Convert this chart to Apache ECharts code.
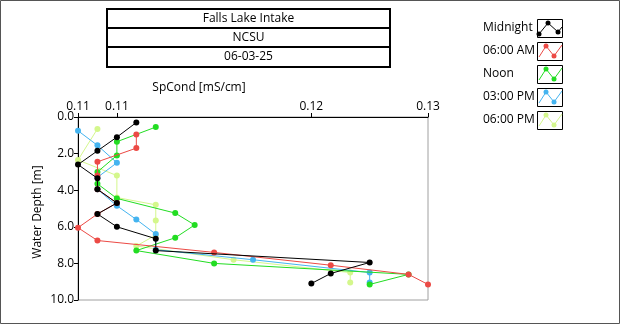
<!DOCTYPE html>
<html>
<head>
<meta charset="utf-8">
<script src="https://cdn.jsdelivr.net/npm/echarts@6/dist/echarts.min.js"></script>
<style>
  html, body { margin: 0; padding: 0; background: #ffffff; }
  #chart { width: 620px; height: 324px; }
</style>
</head>
<body>
<div id="chart"></div>
<script>
// Station header lines
var titleLines = ['Falls Lake Intake', 'NCSU', '06-03-25'];

// Axis ticks
var xTickValues = [0.108, 0.11, 0.12, 0.126];
var xTickLabels = ['0.11', '0.11', '0.12', '0.13'];
var yTickLabels = ['0.0', '2.0', '4.0', '6.0', '8.0', '10.0'];

// Profile names and colours
var seriesNames = ['Midnight', '06:00 AM', 'Noon', '03:00 PM', '06:00 PM'];
var seriesColors = ['#000000', '#ec4a45', '#22dd22', '#44b4f0', '#d4f78c'];

// Depth [m] and specific conductance [mS/cm] per profile
var depthMidnight = [0.3, 1.1, 1.85, 2.6, 3.35, 3.95, 4.7, 5.3, 6.0, 6.65, 7.3, 7.95, 8.55, 9.1];
var condMidnight  = [0.111, 0.110, 0.109, 0.108, 0.109, 0.109, 0.110, 0.109, 0.110, 0.112, 0.112, 0.123, 0.121, 0.120];

var depth6am = [0.95, 1.7, 2.45, 3.2, 3.95, 4.7, 5.3, 6.05, 6.75, 7.4, 8.1, 8.6, 9.15];
var cond6am  = [0.111, 0.111, 0.109, 0.109, 0.109, 0.110, 0.109, 0.108, 0.109, 0.115, 0.121, 0.125, 0.126];

var depthNoon = [0.55, 1.35, 2.1, 3.0, 3.65, 4.45, 5.25, 5.9, 6.6, 7.3, 8.0, 8.6, 9.15];
var condNoon  = [0.112, 0.110, 0.110, 0.109, 0.109, 0.110, 0.113, 0.114, 0.113, 0.111, 0.115, 0.125, 0.123];

var depth3pm = [0.75, 1.55, 2.5, 3.3, 3.95, 4.85, 5.6, 6.4, 7.25, 7.8, 8.5, 9.05];
var cond3pm  = [0.108, 0.109, 0.110, 0.109, 0.109, 0.110, 0.111, 0.112, 0.112, 0.117, 0.123, 0.123];

var depth6pm = [0.65, 2.35, 3.2, 4.4, 4.8, 5.65, 6.45, 7.05, 7.8, 8.5, 9.05];
var cond6pm  = [0.109, 0.108, 0.110, 0.110, 0.112, 0.112, 0.112, 0.111, 0.116, 0.122, 0.122];

var profiles = [
  [condMidnight, depthMidnight],
  [cond6am, depth6am],
  [condNoon, depthNoon],
  [cond3pm, depth3pm],
  [cond6pm, depth6pm]
];

var FONT = 'Open Sans';

function pairs(xs, ys) {
  var out = [];
  for (var i = 0; i < xs.length; i++) out.push([xs[i], ys[i]]);
  return out;
}

var chart = echarts.init(document.getElementById('chart'), null, { renderer: 'canvas' });

var series = profiles.map(function (p, i) {
  return {
    name: seriesNames[i],
    type: 'line',
    data: pairs(p[0], p[1]),
    symbol: 'circle',
    symbolSize: 6,
    showSymbol: true,
    animation: false,
    z: 10 - i,
    lineStyle: { color: seriesColors[i], width: 1 },
    itemStyle: { color: seriesColors[i] }
  };
});

// Header box and legend drawn as graphic elements
var graphics = [];
// outer frame
graphics.push({
  type: 'rect', shape: { x: 0.5, y: 0.5, width: 619, height: 323 },
  style: { fill: 'none', stroke: '#555555', lineWidth: 1 }, silent: true
});
var boxX = 107, boxW = 283, rowTops = [9, 28, 47, 67];
for (var r = 0; r < titleLines.length; r++) {
  graphics.push({
    type: 'rect',
    shape: { x: boxX, y: rowTops[r], width: boxW, height: rowTops[r + 1] - rowTops[r] },
    style: { fill: '#ffffff', stroke: '#000000', lineWidth: 2 }, silent: true
  });
  graphics.push({
    type: 'text', x: boxX + boxW / 2, y: (rowTops[r] + rowTops[r + 1]) / 2,
    style: { text: titleLines[r], fill: '#000000', font: '12px "' + FONT + '"', align: 'center', verticalAlign: 'middle' },
    silent: true
  });
}

// legend rows
var legendTop = 19, legendStep = 23;
for (var k = 0; k < seriesNames.length; k++) {
  var by = legendTop + k * legendStep;
  graphics.push({
    type: 'text', x: 483, y: by + 9,
    style: { text: seriesNames[k], fill: '#000000', font: '12px "' + FONT + '"', align: 'left', verticalAlign: 'middle' },
    silent: true
  });
  graphics.push({
    type: 'rect', shape: { x: 537.5, y: by + 0.5, width: 25, height: 18 },
    style: { fill: '#ffffff', stroke: '#000000', lineWidth: 1 }, silent: true
  });
  var pts = k === 0
    ? [[539, by + 15], [548, by + 4], [558, by + 13], [562, by + 8]]
    : [[539, by + 15], [546, by + 4], [554, by + 14], [562, by + 3]];
  graphics.push({
    type: 'polyline', shape: { points: pts },
    style: { stroke: seriesColors[k], lineWidth: 1, fill: 'none' }, silent: true
  });
  var marks = k === 0 ? [pts[0], pts[1], pts[2]] : [pts[1], pts[2]];
  marks.forEach(function (m) {
    graphics.push({
      type: 'circle', shape: { cx: m[0], cy: m[1], r: 2.5 },
      style: { fill: seriesColors[k] }, silent: true
    });
  });
}

// axis titles
graphics.push({
  type: 'text', x: 199, y: 88,
  style: { text: 'SpCond [mS/cm]', fill: '#000000', font: '12px "' + FONT + '"', align: 'center', verticalAlign: 'middle' },
  silent: true
});
graphics.push({
  type: 'text', x: 38, y: 212, rotation: Math.PI / 2,
  style: { text: 'Water Depth [m]', fill: '#000000', font: '12px "' + FONT + '"', align: 'center', verticalAlign: 'middle' },
  silent: true
});

chart.setOption({
  animation: false,
  backgroundColor: '#ffffff',
  grid: {
    left: 78, top: 117, width: 350, height: 183,
    show: true, borderColor: '#a0a0a0', borderWidth: 1, backgroundColor: '#ffffff'
  },
  xAxis: {
    type: 'value', position: 'top',
    min: xTickValues[0], max: xTickValues[xTickValues.length - 1],
    axisLine: { show: true, onZero: false, lineStyle: { color: '#000000', width: 1 } },
    axisTick: { show: true, length: 4, lineStyle: { color: '#000000' }, customValues: xTickValues },
    axisLabel: {
      show: true, margin: 4, color: '#000000', fontFamily: FONT, fontSize: 12,
      customValues: xTickValues,
      formatter: function (v) {
        var i = xTickValues.indexOf(v);
        return i >= 0 ? xTickLabels[i] : '';
      }
    },
    splitLine: { show: false }
  },
  yAxis: {
    type: 'value', inverse: true, min: 0, max: 10, interval: 2,
    axisLine: { show: true, onZero: false, lineStyle: { color: '#000000', width: 1 } },
    axisTick: { show: true, length: 4, lineStyle: { color: '#000000' } },
    axisLabel: {
      show: true, margin: 4, color: '#000000', fontFamily: FONT, fontSize: 12,
      formatter: function (v) { return yTickLabels[Math.round(v / 2)]; }
    },
    splitLine: { show: false }
  },
  series: series,
  graphic: graphics
});
</script>
</body>
</html>
